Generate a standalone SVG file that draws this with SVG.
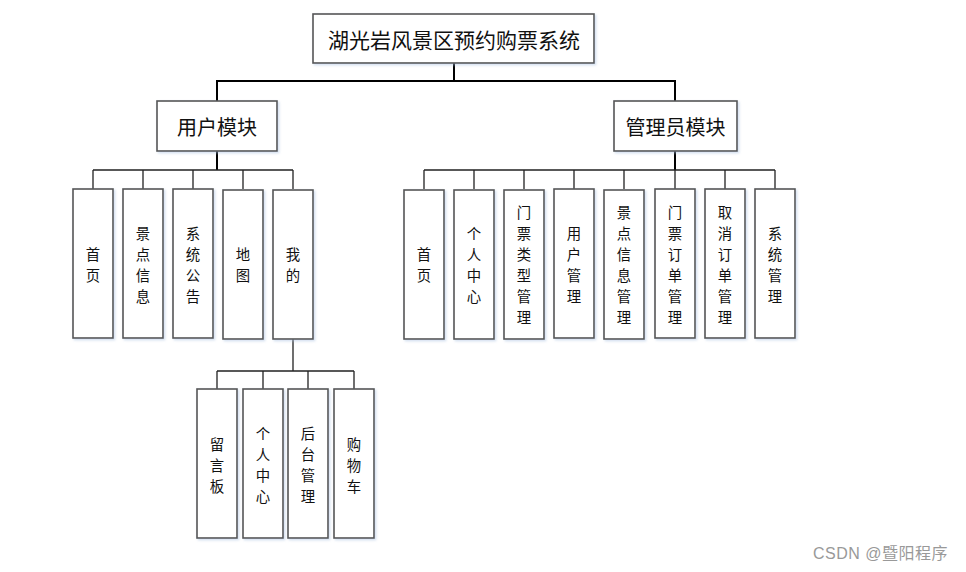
<svg xmlns="http://www.w3.org/2000/svg" width="966" height="572" viewBox="0 0 966 572">
<style>
.box{fill:#fff;stroke:#555;stroke-width:1.6;filter:url(#sh)}
.t{font-family:"Noto Sans CJK SC","Noto Sans",sans-serif;fill:#111;text-anchor:middle;dominant-baseline:central}
.big{font-size:21px}
.mid{font-size:20px}
.sm{font-size:14.4px}
.main{stroke:#000;stroke-width:2;fill:none}
.br{stroke:#222;stroke-width:1.3;fill:none}
.wm{font-family:"Liberation Sans","Noto Sans CJK SC",sans-serif;font-size:16px;letter-spacing:0.5px;fill:#999}
</style>
<defs>
<filter id="sh" x="-20%" y="-20%" width="140%" height="140%">
<feDropShadow dx="1.5" dy="1.5" stdDeviation="1.2" flood-color="#a8c0e0" flood-opacity="0.5"/>
</filter>
</defs>
<rect width="966" height="572" fill="#fff"/>
<g id="connectors">
<path class="main" d="M454 63V81M216 81H676M217 81V101M675 81V101"/>
<path class="main" d="M217 151V170M675 151V170"/>
<path class="br" d="M93 170H293M93 170V189M143 170V189M193 170V189M243 170V189M293 170V189"/>
<path class="br" d="M424 170H775M424 170V189M474 170V189M524 170V189M574 170V189M624 170V189M675 170V189M725 170V189M775 170V189"/>
<path class="br" d="M293 339V371M217 371H354M217 371V389M263 371V389M308 371V389M354 371V389"/>
</g>
<g id="root"><rect class="box" x="313" y="14" width="281" height="49"/><text class="t big" x="454" y="39">湖光岩风景区预约购票系统</text></g>
<g id="user-module"><rect class="box" x="157" y="101" width="120" height="50"/><text class="t mid" x="217" y="126">用户模块</text></g>
<g id="admin-module"><rect class="box" x="614" y="101" width="123" height="50"/><text class="t mid" x="675.5" y="126">管理员模块</text></g>

<g id="u-home" class="t sm"><rect class="box" x="73" y="189" width="40" height="149"/><text x="93" y="253">首</text><text x="93" y="274">页</text></g>
<g id="u-scenic" class="t sm"><rect class="box" x="123" y="189" width="40" height="149"/><text x="143" y="232">景</text><text x="143" y="253">点</text><text x="143" y="274">信</text><text x="143" y="295">息</text></g>
<g id="u-notice" class="t sm"><rect class="box" x="173" y="189" width="40" height="149"/><text x="193" y="232">系</text><text x="193" y="253">统</text><text x="193" y="274">公</text><text x="193" y="295">告</text></g>
<g id="u-map" class="t sm"><rect class="box" x="223" y="190" width="40" height="149"/><text x="243" y="253">地</text><text x="243" y="274">图</text></g>
<g id="u-mine" class="t sm"><rect class="box" x="273" y="190" width="40" height="149"/><text x="293" y="253">我</text><text x="293" y="274">的</text></g>

<g id="a-home" class="t sm"><rect class="box" x="404" y="190" width="40" height="149"/><text x="424" y="253">首</text><text x="424" y="274">页</text></g>
<g id="a-personal" class="t sm"><rect class="box" x="454" y="190" width="40" height="149"/><text x="474" y="232">个</text><text x="474" y="253">人</text><text x="474" y="274">中</text><text x="474" y="295">心</text></g>
<g id="a-tickettype" class="t sm"><rect class="box" x="504" y="190" width="40" height="149"/><text x="524" y="211">门</text><text x="524" y="232">票</text><text x="524" y="253">类</text><text x="524" y="274">型</text><text x="524" y="295">管</text><text x="524" y="316">理</text></g>
<g id="a-user" class="t sm"><rect class="box" x="554" y="189" width="40" height="149"/><text x="574" y="232">用</text><text x="574" y="253">户</text><text x="574" y="274">管</text><text x="574" y="295">理</text></g>
<g id="a-scenic" class="t sm"><rect class="box" x="604" y="190" width="40" height="149"/><text x="624" y="211">景</text><text x="624" y="232">点</text><text x="624" y="253">信</text><text x="624" y="274">息</text><text x="624" y="295">管</text><text x="624" y="316">理</text></g>
<g id="a-order" class="t sm"><rect class="box" x="655" y="189" width="40" height="149"/><text x="675" y="211">门</text><text x="675" y="232">票</text><text x="675" y="253">订</text><text x="675" y="274">单</text><text x="675" y="295">管</text><text x="675" y="316">理</text></g>
<g id="a-cancel" class="t sm"><rect class="box" x="705" y="189" width="40" height="149"/><text x="725" y="211">取</text><text x="725" y="232">消</text><text x="725" y="253">订</text><text x="725" y="274">单</text><text x="725" y="295">管</text><text x="725" y="316">理</text></g>
<g id="a-system" class="t sm"><rect class="box" x="755" y="189" width="40" height="149"/><text x="775" y="232">系</text><text x="775" y="253">统</text><text x="775" y="274">管</text><text x="775" y="295">理</text></g>

<g id="m-message" class="t sm"><rect class="box" x="197" y="389" width="40" height="149"/><text x="217" y="443">留</text><text x="217" y="464">言</text><text x="217" y="485">板</text></g>
<g id="m-personal" class="t sm"><rect class="box" x="243" y="389" width="40" height="149"/><text x="263" y="432">个</text><text x="263" y="453">人</text><text x="263" y="474">中</text><text x="263" y="495">心</text></g>
<g id="m-backend" class="t sm"><rect class="box" x="288" y="389" width="40" height="149"/><text x="308" y="432">后</text><text x="308" y="453">台</text><text x="308" y="474">管</text><text x="308" y="495">理</text></g>
<g id="m-cart" class="t sm"><rect class="box" x="334" y="389" width="40" height="149"/><text x="354" y="443">购</text><text x="354" y="464">物</text><text x="354" y="485">车</text></g>

<text class="wm" x="813" y="559">CSDN @暨阳程序</text>
</svg>
